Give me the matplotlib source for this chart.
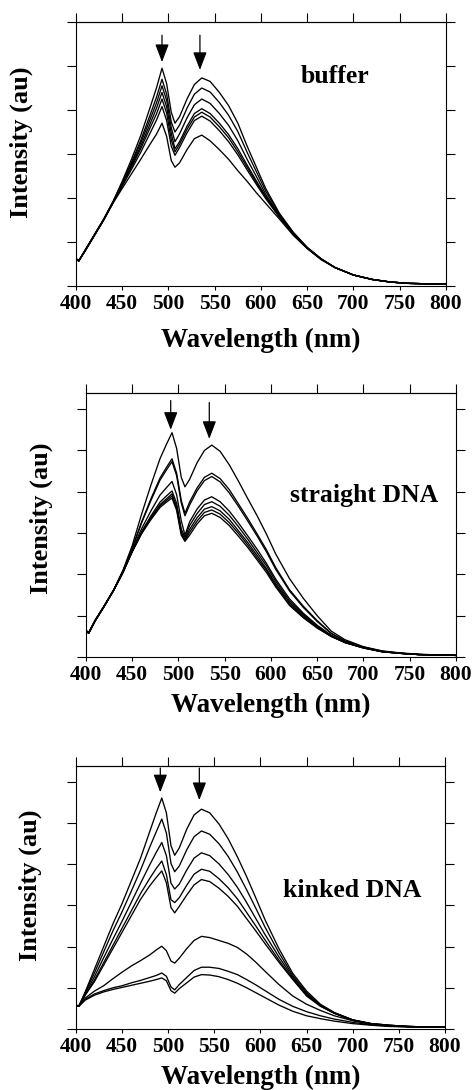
import matplotlib.pyplot as plt

plt.rcParams['font.family'] = ['Liberation Serif', 'DejaVu Serif']
plt.rcParams['font.weight'] = 'bold'
plt.rcParams['axes.labelweight'] = 'bold'

# emission spectra, intensity in tick units (au)
wavelength = [400, 403, 410, 420, 430, 440, 450, 460, 470, 480,
              487, 493, 498, 503, 507, 512, 520, 528, 536, 545,
              555, 565, 575, 585, 595, 605, 620, 635, 650, 665,
              680, 700, 720, 740, 760, 780, 800]

buffer_curves = [
    [.62, .57, .82, 1.17, 1.52, 1.92, 2.38, 2.88, 3.42, 4.05, 4.50, 4.95, 4.60, 3.95, 3.70, 3.85, 4.25, 4.58, 4.73,
     4.65, 4.40, 4.10, 3.70, 3.18, 2.70, 2.22, 1.65, 1.22, .88, .62, .42, .25, .15, .09, .06, .05, .04],
    [.62, .57, .82, 1.17, 1.52, 1.91, 2.35, 2.81, 3.31, 3.88, 4.29, 4.70, 4.36, 3.73, 3.50, 3.66, 4.04, 4.36, 4.50,
     4.41, 4.17, 3.88, 3.51, 3.04, 2.60, 2.16, 1.63, 1.21, .87, .62, .42, .25, .15, .09, .06, .05, .04],
    [.62, .57, .81, 1.16, 1.51, 1.91, 2.33, 2.77, 3.25, 3.78, 4.16, 4.55, 4.22, 3.60, 3.28, 3.46, 3.82, 4.12, 4.25,
     4.15, 3.92, 3.65, 3.30, 2.88, 2.49, 2.09, 1.60, 1.19, .87, .61, .42, .25, .15, .09, .06, .05, .04],
    [.62, .57, .81, 1.16, 1.51, 1.90, 2.31, 2.73, 3.18, 3.68, 4.04, 4.40, 4.07, 3.47, 3.12, 3.28, 3.63, 3.92, 4.03,
     3.92, 3.70, 3.44, 3.12, 2.75, 2.39, 2.04, 1.58, 1.18, .86, .61, .42, .25, .15, .09, .06, .05, .04],
    [.62, .57, .81, 1.16, 1.51, 1.90, 2.29, 2.70, 3.12, 3.59, 3.91, 4.25, 3.93, 3.33, 3.05, 3.22, 3.56, 3.84, 3.95,
     3.84, 3.62, 3.37, 3.05, 2.70, 2.35, 2.02, 1.57, 1.18, .86, .61, .42, .25, .15, .09, .06, .05, .04],
    [.62, .57, .80, 1.15, 1.50, 1.89, 2.27, 2.65, 3.04, 3.47, 3.77, 4.08, 3.76, 3.18, 2.97, 3.15, 3.48, 3.76, 3.86,
     3.75, 3.53, 3.28, 2.98, 2.64, 2.31, 1.99, 1.56, 1.17, .86, .61, .42, .25, .15, .09, .06, .05, .04],
    [.62, .57, .80, 1.15, 1.50, 1.88, 2.22, 2.55, 2.88, 3.22, 3.45, 3.70, 3.40, 2.85, 2.70, 2.80, 3.10, 3.35, 3.43,
     3.30, 3.10, 2.88, 2.62, 2.38, 2.12, 1.88, 1.52, 1.15, .85, .60, .42, .25, .15, .09, .06, .05, .04],
]

straight_curves = [
    [.65, .60, .90, 1.25, 1.63, 2.10, 2.70, 3.45, 4.15, 4.80, 5.15, 5.43, 5.05, 4.35, 4.12, 4.30, 4.70, 5.00, 5.13,
     4.98, 4.65, 4.25, 3.83, 3.42, 2.98, 2.50, 1.90, 1.42, 1.00, .63, .42, .25, .15, .10, .07, .05, .04],
    [.64, .59, .89, 1.25, 1.63, 2.08, 2.64, 3.26, 3.82, 4.33, 4.59, 4.80, 4.45, 3.79, 3.48, 3.75, 4.09, 4.35, 4.45,
     4.32, 4.05, 3.70, 3.35, 2.98, 2.60, 2.17, 1.63, 1.23, .88, .58, .39, .24, .14, .09, .06, .05, .04],
    [.63, .59, .89, 1.25, 1.62, 2.08, 2.63, 3.24, 3.78, 4.28, 4.53, 4.73, 4.39, 3.73, 3.42, 3.68, 4.02, 4.27, 4.37,
     4.24, 3.97, 3.64, 3.29, 2.93, 2.55, 2.13, 1.60, 1.20, .86, .57, .39, .24, .14, .09, .06, .05, .04],
    [.62, .58, .88, 1.24, 1.62, 2.06, 2.59, 3.10, 3.53, 3.92, 4.10, 4.25, 3.93, 3.30, 2.95, 3.27, 3.58, 3.80, 3.88,
     3.76, 3.53, 3.24, 2.93, 2.61, 2.27, 1.89, 1.41, 1.06, .77, .53, .36, .23, .13, .09, .06, .05, .04],
    [.62, .58, .88, 1.24, 1.62, 2.05, 2.57, 3.03, 3.41, 3.75, 3.90, 4.02, 3.72, 3.10, 2.90, 3.18, 3.47, 3.69, 3.76,
     3.65, 3.43, 3.15, 2.85, 2.53, 2.21, 1.84, 1.36, 1.03, .75, .52, .36, .23, .13, .09, .06, .05, .04],
    [.62, .58, .88, 1.24, 1.62, 2.05, 2.56, 3.01, 3.37, 3.69, 3.83, 3.95, 3.64, 3.03, 2.85, 3.09, 3.37, 3.58, 3.64,
     3.54, 3.33, 3.05, 2.77, 2.46, 2.14, 1.78, 1.32, 1.00, .73, .51, .35, .22, .13, .09, .06, .05, .04],
    [.62, .58, .88, 1.24, 1.62, 2.05, 2.55, 2.99, 3.35, 3.66, 3.79, 3.90, 3.60, 2.99, 2.82, 3.02, 3.29, 3.50, 3.56,
     3.46, 3.25, 2.99, 2.71, 2.40, 2.10, 1.74, 1.28, .97, .71, .50, .35, .22, .13, .09, .06, .05, .04],
    [.62, .58, .88, 1.24, 1.62, 2.05, 2.55, 2.98, 3.32, 3.62, 3.75, 3.85, 3.55, 2.95, 2.80, 2.95, 3.22, 3.42, 3.48,
     3.38, 3.18, 2.92, 2.65, 2.35, 2.05, 1.70, 1.25, .95, .70, .50, .35, .22, .13, .09, .06, .05, .04],
]

kinked_curves = [
    [.58, .55, .90, 1.45, 2.00, 2.55, 3.05, 3.60, 4.15, 4.80, 5.25, 5.61, 5.25, 4.45, 4.22, 4.40, 4.85, 5.20, 5.34,
     5.25, 4.98, 4.62, 4.18, 3.70, 3.18, 2.65, 1.95, 1.35, .92, .60, .40, .22, .13, .09, .06, .05, .04],
    [.58, .55, .88, 1.36, 1.87, 2.38, 2.85, 3.35, 3.86, 4.42, 4.79, 5.10, 4.76, 4.02, 3.82, 3.96, 4.35, 4.67, 4.81,
     4.73, 4.50, 4.19, 3.81, 3.38, 2.93, 2.47, 1.85, 1.30, .88, .58, .39, .22, .13, .09, .06, .05, .04],
    [.58, .55, .85, 1.27, 1.73, 2.18, 2.62, 3.08, 3.54, 3.99, 4.29, 4.53, 4.21, 3.54, 3.40, 3.52, 3.86, 4.15, 4.28,
     4.21, 4.01, 3.75, 3.44, 3.07, 2.68, 2.29, 1.75, 1.26, .85, .57, .39, .22, .13, .09, .06, .05, .04],
    [.58, .55, .83, 1.19, 1.61, 2.03, 2.45, 2.87, 3.29, 3.66, 3.90, 4.08, 3.75, 3.14, 3.07, 3.19, 3.49, 3.76, 3.88,
     3.83, 3.65, 3.43, 3.16, 2.83, 2.50, 2.16, 1.67, 1.22, .82, .56, .38, .21, .12, .08, .06, .05, .04],
    [.58, .55, .82, 1.15, 1.55, 1.95, 2.35, 2.75, 3.15, 3.48, 3.68, 3.84, 3.55, 2.95, 2.82, 2.98, 3.25, 3.50, 3.63,
     3.58, 3.42, 3.22, 2.98, 2.68, 2.38, 2.07, 1.62, 1.20, .80, .55, .38, .21, .12, .08, .06, .05, .04],
    [.58, .55, .75, .92, 1.05, 1.22, 1.38, 1.53, 1.66, 1.80, 1.92, 2.01, 1.90, 1.65, 1.60, 1.72, 1.95, 2.15, 2.25,
     2.22, 2.15, 2.08, 1.98, 1.82, 1.62, 1.40, 1.08, .80, .60, .45, .32, .20, .12, .08, .06, .05, .04],
    [.58, .55, .72, .85, .93, 1.00, 1.05, 1.12, 1.18, 1.25, 1.30, 1.36, 1.28, 1.02, .95, 1.08, 1.25, 1.42, 1.50,
     1.50, 1.47, 1.40, 1.32, 1.20, 1.07, .93, .72, .55, .42, .32, .24, .16, .10, .07, .05, .05, .04],
    [.58, .55, .70, .82, .90, .96, 1.01, 1.06, 1.11, 1.16, 1.20, 1.24, 1.17, .93, .87, .98, 1.12, 1.26, 1.32,
     1.31, 1.27, 1.20, 1.11, 1.00, .88, .76, .58, .43, .32, .25, .19, .13, .09, .06, .05, .04, .04],
]

x_ticks = [400, 450, 500, 550, 600, 650, 700, 750, 800]
y_ticks = [0, 1, 2, 3, 4, 5, 6]
panel_names = ['buffer', 'straight DNA', 'kinked DNA']

# arrows: (wavelength, tail, tip)
buffer_arrows = [(493, 5.70, 5.09), (534, 5.70, 4.91)]
straight_arrows = [(491.6, 6.21, 5.50), (533.3, 6.16, 5.28)]
kinked_arrows = [(491.4, 6.34, 5.75), (533.7, 6.34, 5.56)]


def draw_panel(ax, curves, arrows, name, ymax, name_pos, xlab_y, ylab_pos):
    for y in curves:
        ax.plot(wavelength, y, color='black', lw=0.95)
    ax.set_xlim(400, 800)
    ax.set_ylim(0, ymax)
    ax.set_xticks(x_ticks)
    ax.set_yticks(y_ticks)
    ax.set_yticklabels([])
    ax.tick_params(axis='y', direction='out', length=6.5, width=0.8, left=True, right=True)
    ax.tick_params(axis='x', direction='out', length=3, width=0.8, labelsize=15.5, pad=3.0)
    top = ax.secondary_xaxis('top')
    top.set_xticks(x_ticks)
    top.set_xticklabels([])
    top.tick_params(direction='out', length=6.5, width=0.8)
    top.spines['top'].set_linewidth(0.8)
    for s in ax.spines.values():
        s.set_linewidth(0.8)

    for x, tail, tip in arrows:
        ax.annotate('', xy=(x, tip), xytext=(x, tail),
                    arrowprops=dict(arrowstyle='-|>,head_length=1.1,head_width=0.42', color='black',
                                    lw=0.9, shrinkA=0, shrinkB=0, mutation_scale=10))

    ax.text(name_pos[0], name_pos[1], name, transform=ax.transAxes, ha='center', va='baseline',
            fontsize=18.5, fontweight='bold')
    ax.set_xlabel('Wavelength (nm)', fontsize=19.5, fontweight='bold')
    ax.xaxis.set_label_coords(0.5, xlab_y)
    ax.set_ylabel('Intensity (au)', fontsize=19, fontweight='bold')
    ax.yaxis.set_label_coords(ylab_pos[0], ylab_pos[1])


fig = plt.figure(figsize=(4.74, 10.9), dpi=100)
ax1 = fig.add_axes([0.1603, 0.7376, 0.7806, 0.2422])
ax2 = fig.add_axes([0.1814, 0.3972, 0.7806, 0.2422])
ax3 = fig.add_axes([0.1603, 0.0560, 0.7785, 0.2413])

draw_panel(ax1, buffer_curves, buffer_arrows, panel_names[0], 6, (0.701, 0.770), -0.160, (-0.116, 0.544))
draw_panel(ax2, straight_curves, straight_arrows, panel_names[1], 6.39, (0.751, 0.588), -0.137, (-0.089, 0.525))
draw_panel(ax3, kinked_curves, kinked_arrows, panel_names[2], 6.39, (0.749, 0.503), -0.138, (-0.092, 0.548))

fig.savefig('out.png', dpi=100)
